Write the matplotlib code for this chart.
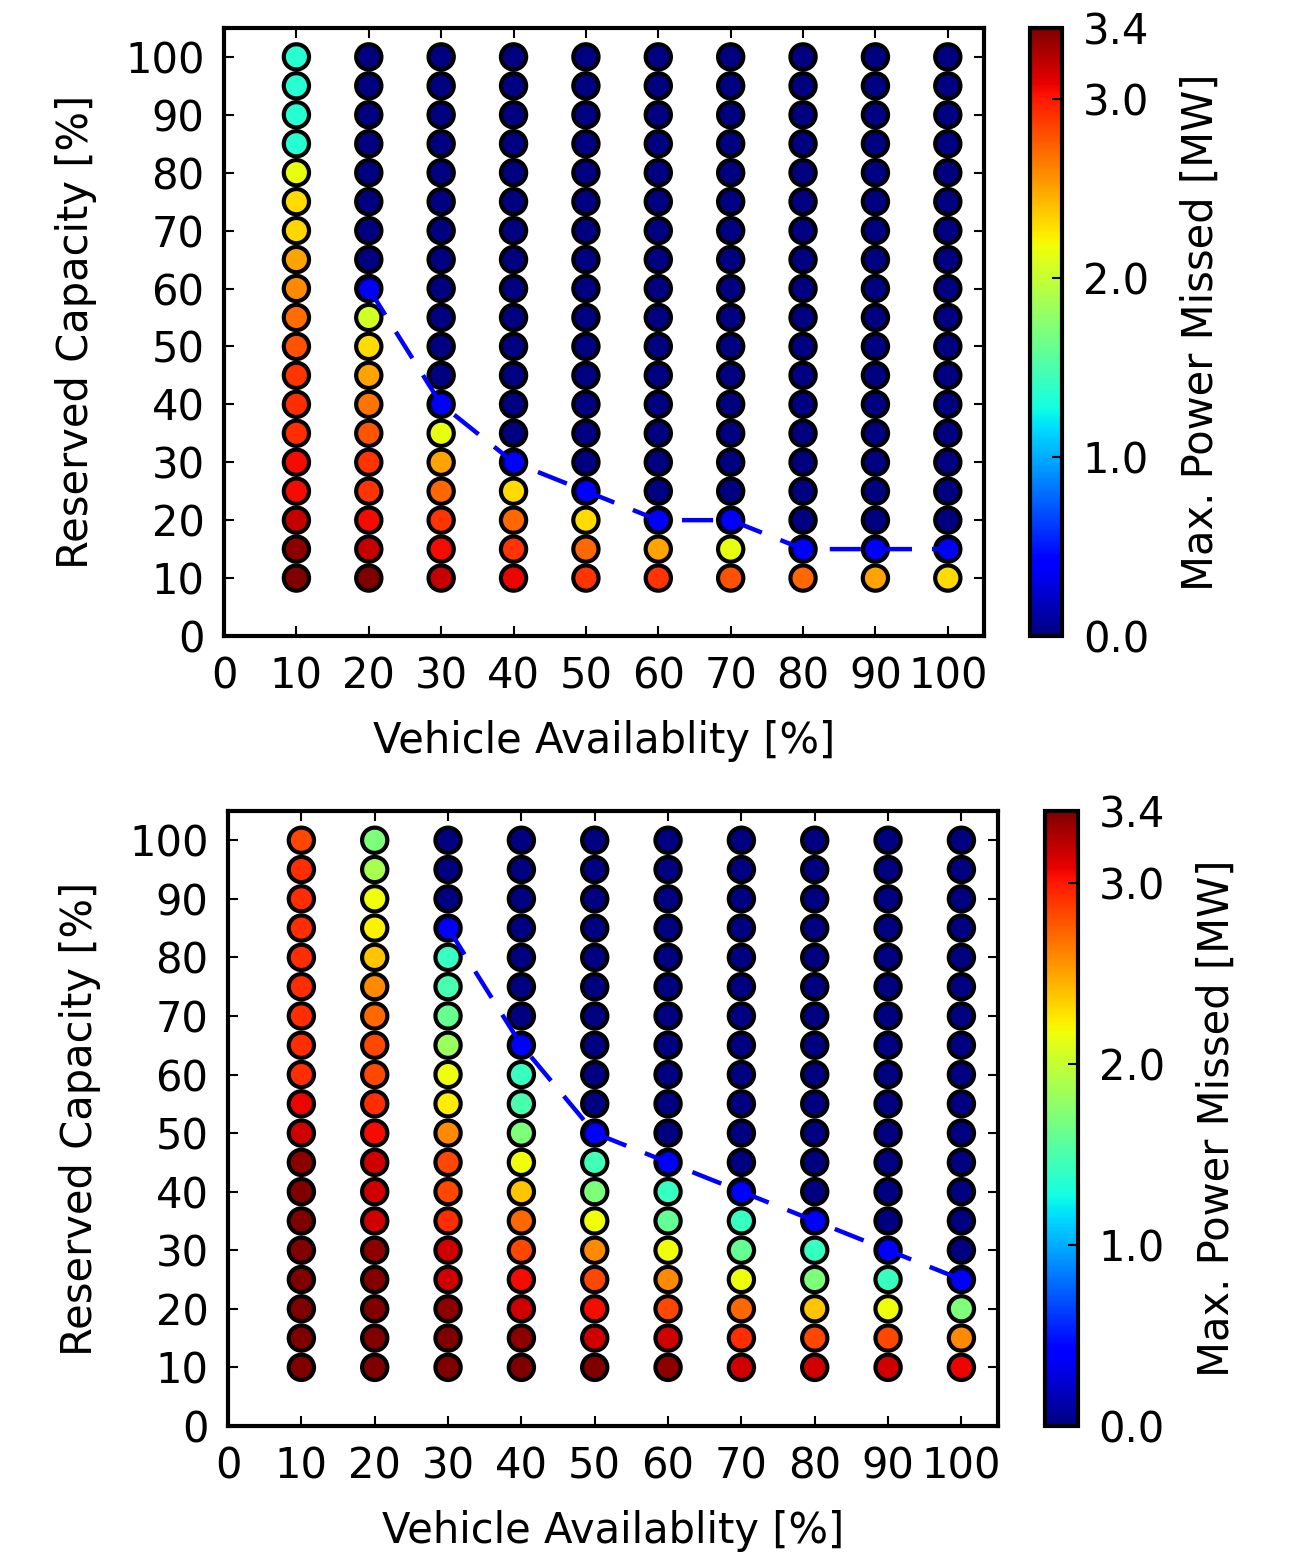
import matplotlib
matplotlib.use("Agg")
import matplotlib.pyplot as plt
import numpy as np

# x: vehicle availability, y: reserved capacity (10..100 step 5)
availability = [10, 20, 30, 40, 50, 60, 70, 80, 90, 100]
reserved = [10, 15, 20, 25, 30, 35, 40, 45, 50, 55, 60, 65, 70, 75, 80, 85, 90, 95, 100]

# max power missed [MW], one row per availability, values bottom (10%) to top (100%)
top_missed = [
    [3.4, 3.35, 3.2, 3.05, 3.05, 2.93, 2.93, 2.9, 2.8, 2.7, 2.6, 2.5, 2.32, 2.3, 2.14, 1.35, 1.35, 1.35, 1.35],
    [3.4, 3.2, 3.05, 2.9, 2.9, 2.78, 2.68, 2.5, 2.3, 2.06, 0, 0, 0, 0, 0, 0, 0, 0, 0],
    [3.2, 3.05, 2.9, 2.72, 2.5, 2.14, 0, 0, 0, 0, 0, 0, 0, 0, 0, 0, 0, 0, 0],
    [3.08, 2.9, 2.72, 2.3, 0, 0, 0, 0, 0, 0, 0, 0, 0, 0, 0, 0, 0, 0, 0],
    [2.9, 2.72, 2.3, 0, 0, 0, 0, 0, 0, 0, 0, 0, 0, 0, 0, 0, 0, 0, 0],
    [2.9, 2.5, 0, 0, 0, 0, 0, 0, 0, 0, 0, 0, 0, 0, 0, 0, 0, 0, 0],
    [2.8, 2.14, 0, 0, 0, 0, 0, 0, 0, 0, 0, 0, 0, 0, 0, 0, 0, 0, 0],
    [2.72, 0, 0, 0, 0, 0, 0, 0, 0, 0, 0, 0, 0, 0, 0, 0, 0, 0, 0],
    [2.5, 0, 0, 0, 0, 0, 0, 0, 0, 0, 0, 0, 0, 0, 0, 0, 0, 0, 0],
    [2.3, 0, 0, 0, 0, 0, 0, 0, 0, 0, 0, 0, 0, 0, 0, 0, 0, 0, 0],
]
top_line_x = [20, 30, 40, 50, 60, 70, 80, 90, 100]
top_line_y = [60, 40, 30, 25, 20, 20, 15, 15, 15]

bottom_missed = [
    [3.4, 3.4, 3.4, 3.4, 3.4, 3.4, 3.4, 3.35, 3.15, 3.08, 2.93, 2.93, 2.93, 2.93, 2.93, 2.93, 2.93, 2.93, 2.83],
    [3.4, 3.4, 3.4, 3.38, 3.35, 3.15, 3.15, 3.15, 3.05, 2.93, 2.83, 2.83, 2.72, 2.6, 2.38, 2.22, 2.17, 1.88, 1.7],
    [3.4, 3.4, 3.35, 3.15, 3.15, 2.93, 2.83, 2.83, 2.6, 2.24, 2.17, 1.82, 1.62, 1.48, 1.42, 0, 0, 0, 0],
    [3.4, 3.35, 3.15, 3.05, 2.83, 2.72, 2.38, 2.17, 1.7, 1.5, 1.42, 0, 0, 0, 0, 0, 0, 0, 0],
    [3.4, 3.15, 3.05, 2.83, 2.6, 2.17, 1.7, 1.45, 0, 0, 0, 0, 0, 0, 0, 0, 0, 0, 0],
    [3.35, 3.15, 2.83, 2.6, 2.17, 1.6, 1.42, 0, 0, 0, 0, 0, 0, 0, 0, 0, 0, 0, 0],
    [3.15, 2.93, 2.72, 2.17, 1.6, 1.42, 0, 0, 0, 0, 0, 0, 0, 0, 0, 0, 0, 0, 0],
    [3.15, 2.83, 2.38, 1.7, 1.42, 0, 0, 0, 0, 0, 0, 0, 0, 0, 0, 0, 0, 0, 0],
    [3.15, 2.83, 2.17, 1.42, 0, 0, 0, 0, 0, 0, 0, 0, 0, 0, 0, 0, 0, 0, 0],
    [3.08, 2.6, 1.7, 0, 0, 0, 0, 0, 0, 0, 0, 0, 0, 0, 0, 0, 0, 0, 0],
]
bottom_line_x = [30, 40, 50, 60, 70, 80, 90, 100]
bottom_line_y = [85, 65, 50, 45, 40, 35, 30, 25]

cbar_ticks = [0.0, 1.0, 2.0, 3.0, 3.4]
VMAX = 3.4
FS = 30

plt.rcParams["font.family"] = "DejaVu Sans"


def draw_panel(fig, ax_rect, cax_rect, missed, line_x, line_y):
    ax = fig.add_axes(ax_rect)
    cax = fig.add_axes(cax_rect)
    xs, ys, cs = [], [], []
    for i, va in enumerate(availability):
        for j, rc in enumerate(reserved):
            xs.append(va)
            ys.append(rc)
            cs.append(missed[i][j])
    sc = ax.scatter(xs, ys, c=cs, cmap="jet", vmin=0, vmax=VMAX, s=330,
                    edgecolors="black", linewidths=3, zorder=2)
    ax.plot(line_x, line_y, color="blue", linestyle="--", dashes=(7, 4.5),
            linewidth=3.2, marker="o", markersize=13, markeredgecolor="blue",
            zorder=3)
    ax.set_xlim(0, 105)
    ax.set_ylim(0, 105)
    ax.set_xticks(np.arange(0, 101, 10))
    ax.set_yticks(np.arange(0, 101, 10))
    ax.tick_params(direction="in", top=True, right=True, length=7, width=1.5,
                   labelsize=FS, pad=14)
    for sp in ax.spines.values():
        sp.set_linewidth(3)
    ax.set_xlabel("Vehicle Availablity [%]", fontsize=FS, labelpad=16)
    ax.set_ylabel("Reserved Capacity [%]", fontsize=FS, labelpad=20)

    cb = fig.colorbar(sc, cax=cax, ticks=cbar_ticks)
    cb.ax.set_yticklabels([f"{t:.1f}" for t in cbar_ticks])
    cb.ax.tick_params(direction="in", length=7, width=1.5, labelsize=FS, pad=15)
    cb.outline.set_linewidth(3)
    cb.set_label("Max. Power Missed [MW]", fontsize=FS, labelpad=22)
    return ax


fig = plt.figure(figsize=(12.92, 15.68), dpi=100)
draw_panel(fig, [0.1734, 0.5944, 0.5882, 0.3878], [0.7972, 0.5944, 0.0248, 0.3878],
           top_missed, top_line_x, top_line_y)
draw_panel(fig, [0.1765, 0.0906, 0.5960, 0.3922], [0.8088, 0.0906, 0.0255, 0.3922],
           bottom_missed, bottom_line_x, bottom_line_y)
fig.savefig("out.png", dpi=100)
